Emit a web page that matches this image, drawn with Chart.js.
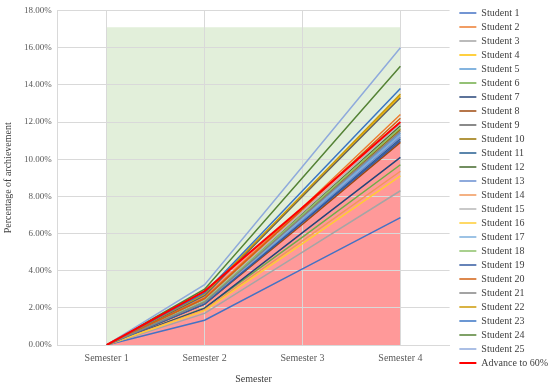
<!DOCTYPE html>
<html>
<head>
<meta charset="utf-8">
<script src="https://cdn.jsdelivr.net/npm/chart.js@4"></script>
<style>
  html, body { margin: 0; padding: 0; background: #fff; }
  #wrap { width: 550px; height: 386px; }
</style>
</head>
<body>
<div id="wrap"><canvas id="chart"></canvas></div>
<script>
// --- Data (percent) ---
const semesters = ['Semester 1', 'Semester 2', 'Semester 3', 'Semester 4'];
const students = ['Student 1', 'Student 2', 'Student 3', 'Student 4', 'Student 5',
  'Student 6', 'Student 7', 'Student 8', 'Student 9', 'Student 10',
  'Student 11', 'Student 12', 'Student 13', 'Student 14', 'Student 15',
  'Student 16', 'Student 17', 'Student 18', 'Student 19', 'Student 20',
  'Student 21', 'Student 22', 'Student 23', 'Student 24', 'Student 25'];
const sem1 = [0, 0, 0, 0, 0, 0, 0, 0, 0, 0, 0, 0, 0, 0, 0, 0, 0, 0, 0, 0, 0, 0, 0, 0, 0];
const sem2 = [1.33, 2.55, 1.70, 2.70, 2.30, 2.00, 1.97, 2.20, 2.65, 2.35, 2.25, 2.40, 2.25,
  1.90, 2.40, 1.85, 2.30, 2.35, 2.20, 2.50, 2.30, 2.75, 2.80, 3.00, 3.25];
const sem3 = [4.10, 7.40, 5.00, 8.00, 6.80, 5.80, 6.05, 6.50, 8.00, 6.95, 6.65, 7.10, 6.70,
  5.60, 7.15, 5.45, 6.80, 7.00, 6.60, 7.30, 6.90, 8.10, 8.30, 9.00, 9.60];
const sem4 = [6.85, 12.40, 8.30, 13.40, 11.40, 9.70, 10.10, 10.90, 13.30, 11.60, 11.10, 11.80, 11.20,
  9.35, 11.90, 9.10, 11.30, 11.70, 11.00, 12.20, 11.50, 13.50, 13.80, 15.00, 16.00];
const advance = [0, 2.90, 7.40, 12.00];
const band = [17.1, 17.1, 17.1, 17.1];
const yTicks = [0, 2, 4, 6, 8, 10, 12, 14, 16, 18];

// --- Styles ---
const colors = ['#4472C4', '#ED7D31', '#A5A5A5', '#FFC000', '#5B9BD5', '#70AD47',
  '#264478', '#9E480E', '#636363', '#997300', '#255E91', '#43682B',
  '#698ED0', '#F1975A', '#B7B7B7', '#FFCD33', '#7CAFDD', '#8CC168',
  '#335AA1', '#D26012', '#848484', '#CC9A06', '#3A75C4', '#548235', '#8FAADC'];
const serif = '"Liberation Serif", "DejaVu Serif", serif';
const gridColor = '#D9D9D9';

const datasets = students.map((name, i) => ({
  label: name,
  data: [sem1[i], sem2[i], sem3[i], sem4[i]],
  borderColor: colors[i],
  backgroundColor: colors[i],
  borderWidth: 1.5,
  pointRadius: 0,
  fill: false,
  order: 30 - i
}));
datasets.push({
  label: 'Advance to 60%',
  data: advance,
  borderColor: '#FF0000',
  backgroundColor: '#FF9999',
  borderWidth: 2,
  pointRadius: 0,
  fill: 'origin',
  order: 1
});
datasets.push({
  label: 'band',
  data: band,
  borderColor: 'rgba(0,0,0,0)',
  backgroundColor: '#E2EFDA',
  borderWidth: 0,
  pointRadius: 0,
  fill: 'origin',
  order: 100
});

// grid sits on top of the filled areas, below the lines
const gridOnTop = {
  id: 'gridOnTop',
  beforeDatasetsDraw(chart) {
    chart.scales.x.drawGrid(chart.chartArea);
    chart.scales.y.drawGrid(chart.chartArea);
  }
};

// nudge the legend a little, like the original
const legendNudge = {
  id: 'legendNudge',
  afterLayout(chart) {
    const lg = chart.legend;
    lg.left += 6; lg.right += 6;
    lg.top += 4; lg.bottom += 4;
  }
};

new Chart(document.getElementById('chart'), {
  type: 'line',
  data: { labels: semesters, datasets },
  plugins: [gridOnTop, legendNudge],
  options: {
    responsive: true,
    maintainAspectRatio: false,
    animation: false,
    layout: { padding: { top: 0, left: 0, right: -2, bottom: 0 } },
    plugins: {
      tooltip: { enabled: false },
      filler: { drawTime: 'beforeDatasetsDraw' },
      legend: {
        position: 'right',
        align: 'start',
        labels: {
          filter: item => item.text !== 'band',
          sort: (a, b) => a.datasetIndex - b.datasetIndex,
          usePointStyle: true,
          pointStyle: 'line',
          pointStyleWidth: 17,
          padding: 4,
          color: '#404040',
          font: { family: serif, size: 10 }
        }
      }
    },
    scales: {
      x: {
        offset: true,
        grid: { color: gridColor, drawTicks: false },
        border: { color: gridColor },
        ticks: { color: '#595959', padding: 7, font: { family: serif, size: 10 } },
        title: { display: true, text: 'Semester', color: '#404040', padding: { top: 2, bottom: 1 }, font: { family: serif, size: 10 } }
      },
      y: {
        min: 0,
        max: 18,
        afterBuildTicks: axis => { axis.ticks = yTicks.map(v => ({ value: v })); },
        grid: { color: gridColor, drawTicks: false },
        border: { color: gridColor },
        ticks: {
          color: '#595959',
          padding: 6,
          font: { family: serif, size: 9, lineHeight: 1 },
          callback: v => v.toFixed(2) + '%'
        },
        title: { display: true, text: 'Percentage of archievement', color: '#404040', padding: { top: 2, bottom: 4 }, font: { family: serif, size: 10 } }
      }
    }
  }
});
</script>
</body>
</html>
